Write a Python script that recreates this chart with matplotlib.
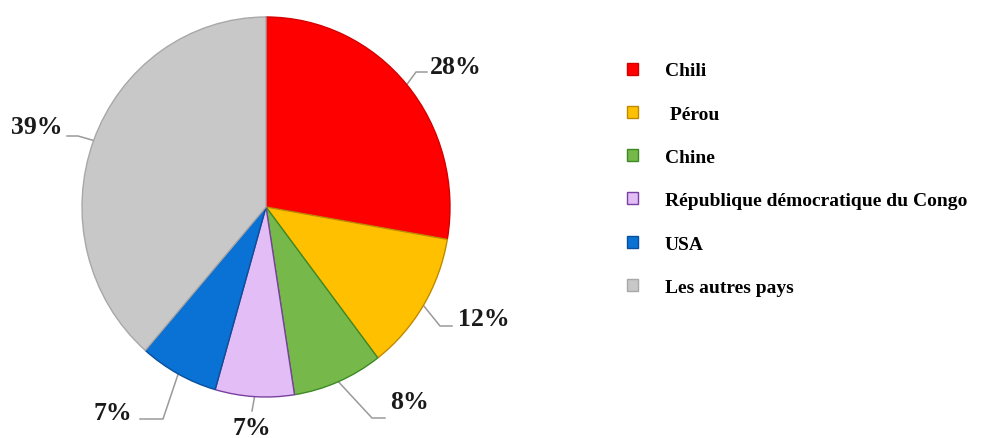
import numpy as np
import matplotlib.pyplot as plt

# parts de la production mondiale de cuivre
pays = ["Chili", " Pérou", "Chine", "République démocratique du Congo", "USA", "Les autres pays"]
parts = [28, 12, 8, 7, 7, 39]

couleurs = ["#ff0000", "#ffc000", "#77b84a", "#e2bdf6", "#0a72d4", "#c8c8c8"]
bords = ["#d40000", "#c08a00", "#3d8a25", "#7a3fa0", "#0a4f9a", "#a8a8a8"]

# placement des étiquettes (pixels, y vers le bas) : texte, coude, fin du trait
etiq_xy = [(430, 68), (458, 320), (390, 403), (252, 429), (132, 414), (63, 128)]
etiq_ha = ["left", "left", "left", "center", "right", "right"]
coudes = [(416, 73), (440, 327), (372, 419), (252, 412), (163, 420), (78, 137)]
fins = [(427, 73), (452, 327), (385, 419), (252, 412), (140, 420), (67, 137)]

W, H = 996, 439
fig = plt.figure(figsize=(W / 100, H / 100), dpi=100)

# camembert légèrement ovale : 184 px de large, 190 px de haut
cx, cy, rx, ry = 266, 208, 184, 190
ax = fig.add_axes([(cx - rx) / W, (H - cy - ry) / H, 2 * rx / W, 2 * ry / H])
wedges, _ = ax.pie(parts, colors=couleurs, startangle=90, counterclock=False,
                   radius=1, frame=False, wedgeprops=dict(linewidth=1.0))
for w, b in zip(wedges, bords):
    w.set_edgecolor(b)
ax.set_xlim(-1, 1)
ax.set_ylim(-1, 1)
ax.set_aspect("auto")
ax.axis("off")

# calque en pixels pour les étiquettes
ov = fig.add_axes([0, 0, 1, 1], zorder=-1)
ov.set_xlim(0, W)
ov.set_ylim(H, 0)
ov.axis("off")

police = "Liberation Serif"
for w, v, (tx, ty), ha, (ex, ey), (fx, fy) in zip(wedges, parts, etiq_xy, etiq_ha, coudes, fins):
    a = np.deg2rad((w.theta1 + w.theta2) / 2)
    px, py = cx + rx * np.cos(a), cy - ry * np.sin(a)
    ov.plot([px, ex, fx], [py, ey, fy], color="#9a9a9a", lw=1.1)
    ov.text(tx, ty, f"{v}%", ha=ha, va="center", fontsize=18.5, fontweight="bold",
            family=police, color="#1a1a1a")

leg = fig.legend(wedges, pays, loc="upper left", bbox_to_anchor=(609 / W, 1 - 46 / H),
                 frameon=False, handlelength=0.58, handleheight=0.58, handletextpad=1.4,
                 labelspacing=1.35, prop=dict(family=police, weight="bold", size=14))

fig.savefig("out.png", dpi=100)
